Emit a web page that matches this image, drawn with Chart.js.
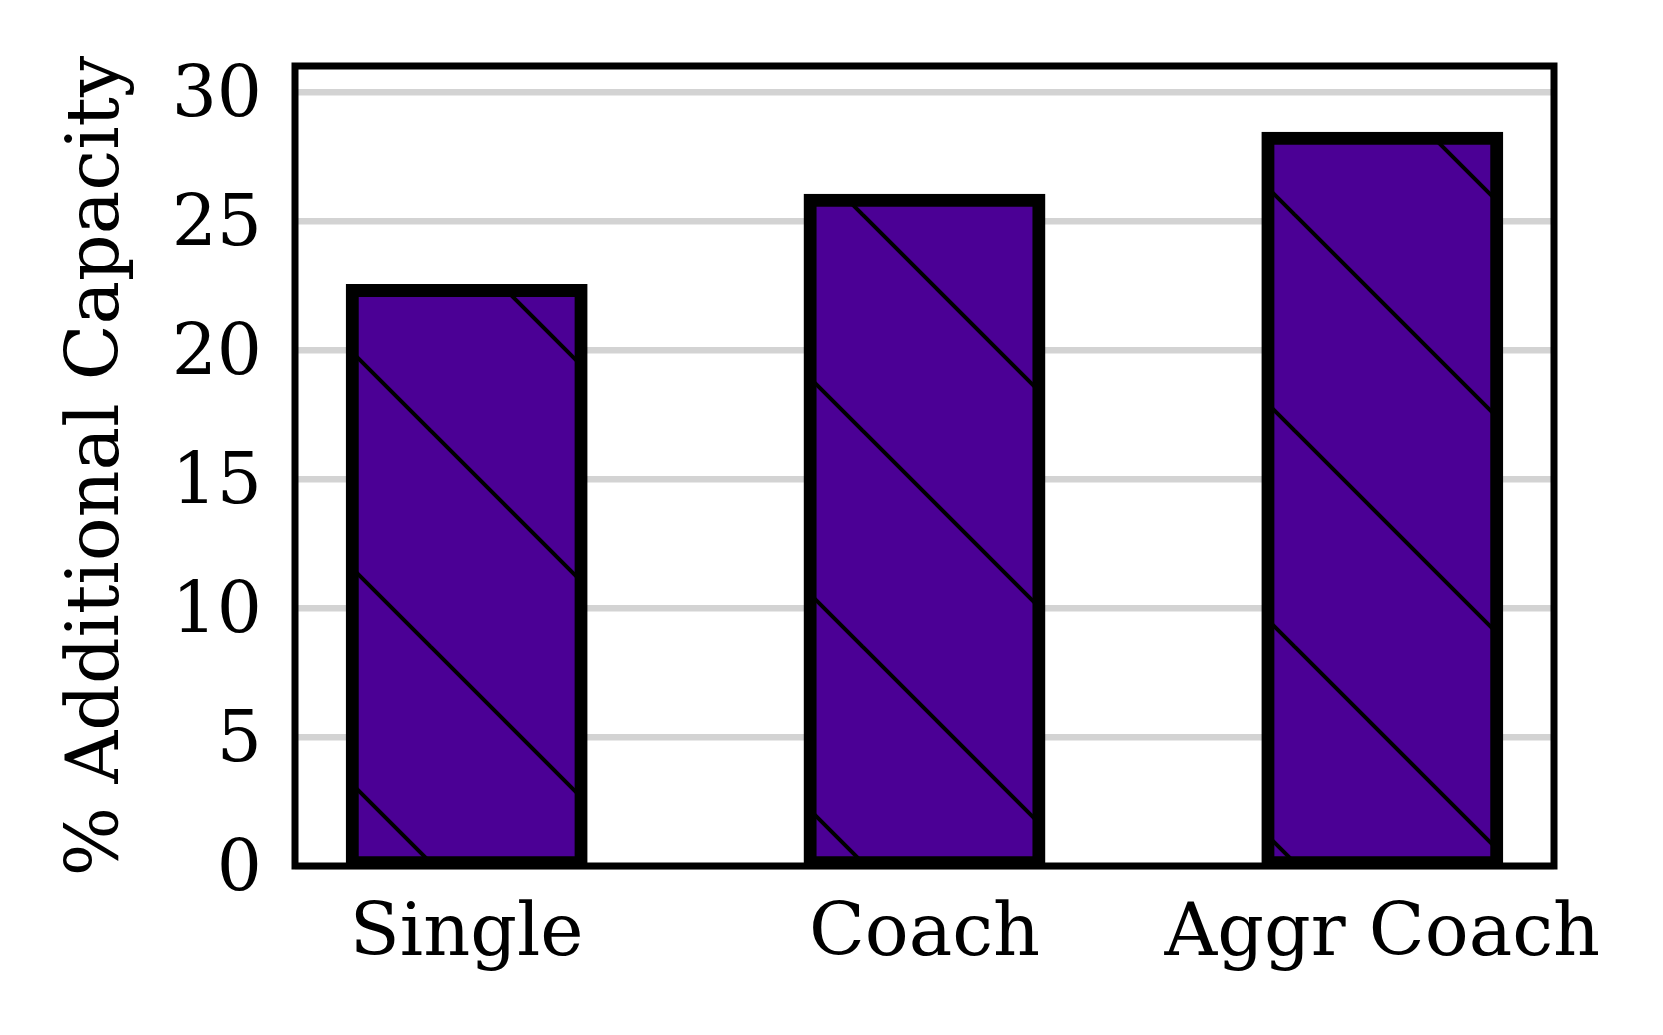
<!DOCTYPE html>
<html>
<head>
<meta charset="utf-8">
<script src="https://cdn.jsdelivr.net/npm/chart.js@4/dist/chart.umd.min.js"></script>
<style>
  body { margin: 0; background: #fff; }
  canvas { display: block; }
</style>
</head>
<body>
<canvas id="myChart" width="1663" height="1035"></canvas>
<script>
  var categories = ["Single", "Coach", "Aggr Coach"];
  var capacity = [22.3, 25.8, 28.2];
  var yTicks = [0, 5, 10, 15, 20, 25, 30];
  var yTitle = "% Additional Capacity";

  var barColor = "#4b0095";

  // diagonal hatch, same look as the "\\" hatch in the original
  var makeHatch = function() {
    var size = 216;
    var tile = document.createElement("canvas");
    tile.width = size;
    tile.height = size;
    var t = tile.getContext("2d");
    t.fillStyle = barColor;
    t.fillRect(0, 0, size, size);
    t.strokeStyle = "#000";
    t.lineWidth = 4;
    for (var k = -1; k <= 1; k++) {
      t.beginPath();
      t.moveTo(-20, -20 + k * size);
      t.lineTo(size + 20, size + 20 + k * size);
      t.stroke();
    }
    return t.createPattern(tile, "repeat");
  };

  var frame = {
    id: "frame",
    afterDraw: function(chart) {
      var a = chart.chartArea;
      var c = chart.ctx;
      c.save();
      c.strokeStyle = "#000";
      c.lineWidth = 7;
      c.strokeRect(a.left, a.top, a.right - a.left, a.bottom - a.top);
      c.restore();
    }
  };

  var points = [];
  for (var i = 0; i < categories.length; i++) {
    points.push({ x: i, y: capacity[i] });
  }

  var context = document.getElementById("myChart").getContext("2d");
  var fontFamily = "'DejaVu Serif', serif";

  var myChart = new Chart(context, {
    type: "bar",
    data: {
      datasets: [
        {
          data: points,
          backgroundColor: makeHatch(),
          borderColor: "#000",
          borderWidth: 13,
          borderSkipped: false,
          inflateAmount: 6.5,
          categoryPercentage: 1,
          barPercentage: 0.5,
          clip: 0
        }
      ]
    },
    options: {
      responsive: false,
      animation: false,
      devicePixelRatio: 1,
      layout: { padding: { top: 66, right: 109, bottom: 0, left: 0 } },
      plugins: {
        legend: { display: false },
        tooltip: { enabled: false }
      },
      scales: {
        x: {
          type: "linear",
          offset: false,
          min: -0.375,
          max: 2.375,
          afterBuildTicks: function(scale) {
            scale.ticks = categories.map(function(c, i) { return { value: i }; });
          },
          afterFit: function(scale) { scale.height = 169; },
          grid: { display: false, drawTicks: false, offset: false },
          border: { display: false },
          ticks: {
            padding: 26,
            color: "#000",
            font: { family: fontFamily, size: 73 },
            maxRotation: 0,
            autoSkip: false,
            callback: function(v) { return categories[v]; }
          }
        },
        y: {
          min: 0,
          max: 31,
          afterBuildTicks: function(scale) {
            scale.ticks = yTicks.map(function(v) { return { value: v }; });
          },
          afterFit: function(scale) {
            scale.width = 295;
            scale.paddingTop = 0;
            scale.paddingBottom = 0;
          },
          grid: { color: "#d3d3d3", lineWidth: 6.5, drawTicks: false },
          border: { display: false },
          ticks: {
            padding: 33,
            labelOffset: 6,
            color: "#000",
            font: { family: fontFamily, size: 71 }
          },
          title: {
            display: true,
            text: yTitle,
            color: "#000",
            font: { family: fontFamily, size: 73 },
            padding: { top: 55, bottom: 0 }
          }
        }
      }
    },
    plugins: [frame]
  });
</script>
</body>
</html>
